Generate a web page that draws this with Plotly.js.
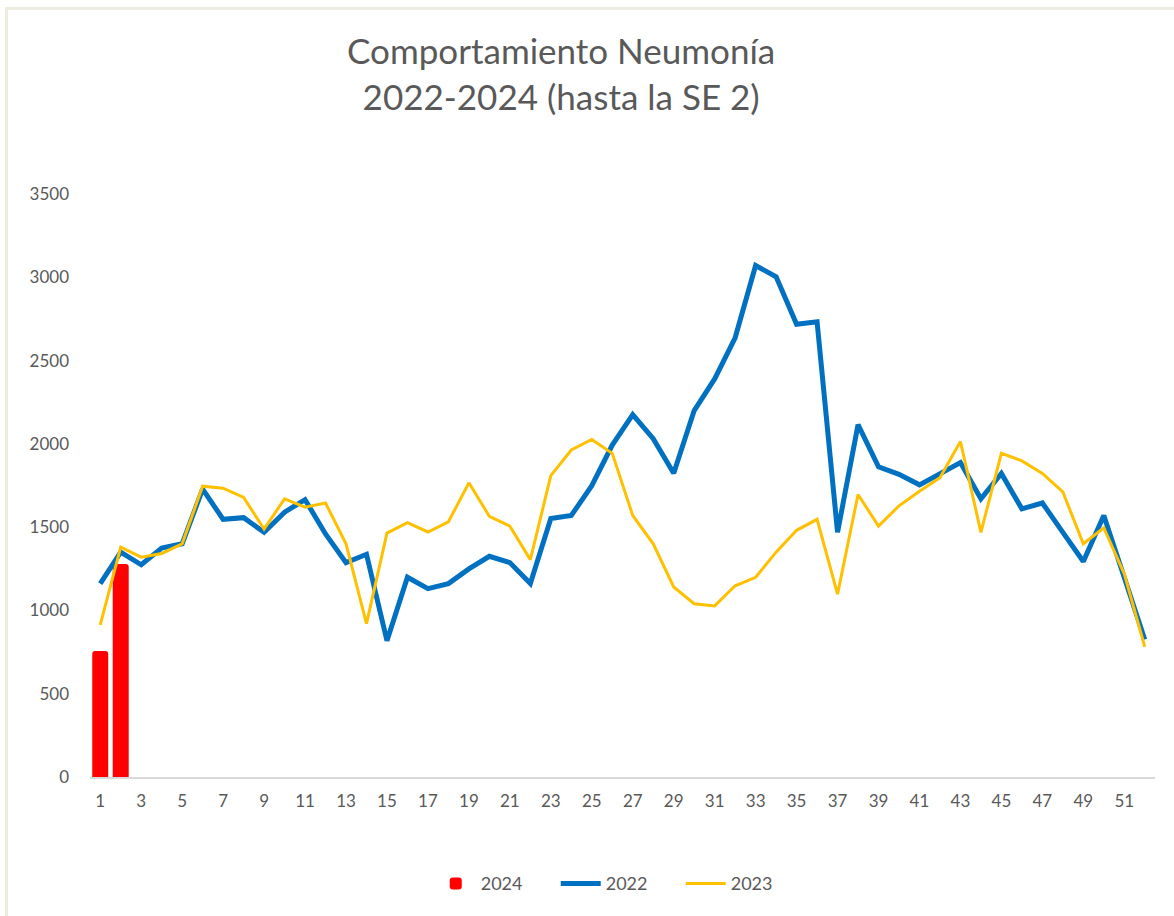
<!DOCTYPE html>
<html>
<head>
<meta charset="utf-8">
<script src="https://cdn.plot.ly/plotly-3.0.1.min.js"></script>
<style>
  html, body { margin: 0; padding: 0; background: #ffffff; }
  #chart { position: absolute; left: 0; top: 0; width: 1174px; height: 916px; }
  #frame { position: absolute; left: 5px; top: 7px; width: 1169px; height: 909px;
           border-left: 3px solid #eeece1; border-top: 3px solid #eeece1; pointer-events: none; }
</style>
</head>
<body>
<div id="chart"></div>
<div id="frame"></div>
<script>
const weeks = Array.from({length: 52}, (_, i) => i + 1);
const weeks2024 = [1, 2];
const values2024 = [757, 1279];
const values2022 = [1161, 1350, 1274, 1375, 1400, 1728, 1547, 1557, 1469, 1590,
                    1665, 1459, 1287, 1337, 818, 1199, 1131, 1161, 1249, 1325,
                    1287, 1161, 1552, 1570, 1749, 1993, 2175, 2031, 1824, 2200,
                    2390, 2637, 3071, 3003, 2718, 2733, 1469, 2115, 1862, 1817,
                    1754, 1822, 1888, 1670, 1822, 1610, 1645, 1469, 1294, 1570,
                    1199, 826];
const values2023 = [913, 1380, 1320, 1342, 1400, 1746, 1734, 1678, 1489, 1670,
                    1620, 1645, 1400, 921, 1464, 1527, 1471, 1532, 1766, 1565,
                    1506, 1305, 1809, 1963, 2026, 1943, 1570, 1400, 1141, 1040,
                    1027, 1148, 1199, 1350, 1481, 1547, 1098, 1696, 1506, 1628,
                    1716, 1797, 2014, 1469, 1943, 1898, 1822, 1711, 1400, 1496,
                    1220, 782];
const yTicks = [0, 500, 1000, 1500, 2000, 2500, 3000, 3500];

const traces = [
  { type: 'bar', name: '2024', x: weeks2024, y: values2024, width: 0.78,
    marker: { color: '#ff0000', cornerradius: 3 } },
  { type: 'scatter', mode: 'lines', name: '2022', x: weeks, y: values2022,
    line: { color: '#0070c0', width: 5, shape: 'linear' } },
  { type: 'scatter', mode: 'lines', name: '2023', x: weeks, y: values2023,
    line: { color: '#ffc000', width: 3, shape: 'linear' } }
];

const layout = {
  width: 1174, height: 916,
  paper_bgcolor: '#ffffff', plot_bgcolor: '#ffffff',
  font: { family: 'Lato, Carlito, "Open Sans", sans-serif', color: '#595959', size: 17 },
  title: { text: 'Comportamiento Neumonía<br>2022-2024 (hasta la SE 2)',
           font: { size: 35, color: '#595959' }, x: 0.478, xanchor: 'center', y: 0.93, yanchor: 'middle' },
  margin: { l: 90, r: 19, t: 194, b: 139 },
  showlegend: true,
  legend: { orientation: 'h', x: 0.496, xanchor: 'center', y: -0.183, yanchor: 'middle',
            font: { size: 18, color: '#595959' }, traceorder: 'normal',
            itemwidth: 40, entrywidth: 70, entrywidthmode: 'pixels' },
  xaxis: { range: [0.5, 52.5], tick0: 1, dtick: 2, showgrid: false, zeroline: false,
           showline: true, linecolor: '#d9d9d9', linewidth: 2, ticks: '',
           ticklabelstandoff: 8,
           tickfont: { size: 17, color: '#595959' }, fixedrange: true },
  yaxis: { range: [0, 3500], tickvals: yTicks, showgrid: false, zeroline: false,
           showline: false, ticks: '', ticklabelstandoff: 20,
           tickfont: { size: 17, color: '#595959' }, fixedrange: true },
  bargap: 0.2
};

Plotly.newPlot('chart', traces, layout, { displayModeBar: false, staticPlot: true });
</script>
</body>
</html>
